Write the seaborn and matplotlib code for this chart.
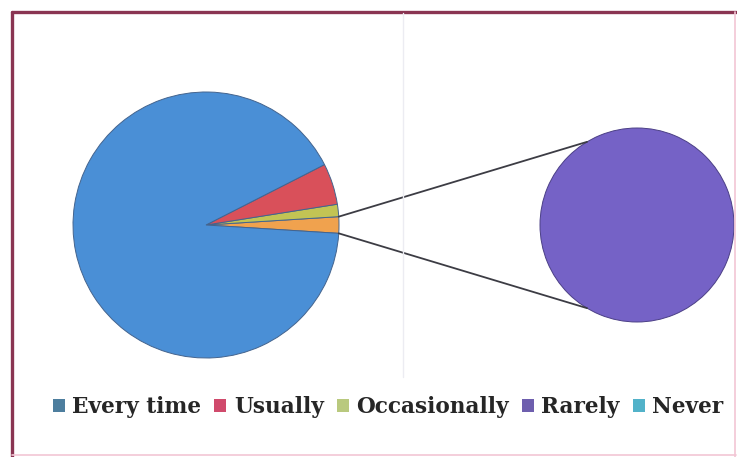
import matplotlib
matplotlib.use("Agg")
import matplotlib.pyplot as plt
from matplotlib.patches import Patch
import numpy as np
import seaborn as sns

# ---- data ----
categories = ["Every time", "Usually", "Occasionally", "Rarely", "Never"]
values = [91.5, 5.0, 1.5, 2.0, 0.0]
main_cats = ["Every time", "Usually", "Occasionally"]   # shown in first pie
detail_cats = ["Rarely", "Never"]                        # split into second pie

# ---- style ----
sns.set_theme(style="white")
plt.rcParams["font.family"] = ["DejaVu Serif", "Liberation Serif"]

slice_colors = {"Every time": "#4a8fd6", "Usually": "#d9505a", "Occasionally": "#c2c454",
                "Rarely": "#7562c6", "Never": "#4fb3c9", "Other": "#f0a24e"}
legend_colors = {"Every time": "#4d7e9e", "Usually": "#d04a6c", "Occasionally": "#b9c97e",
                 "Rarely": "#6e5fae", "Never": "#52b2c9"}

W, H = 737, 457
fig = plt.figure(figsize=(W / 100, H / 100), dpi=100)
fig.patch.set_facecolor("white")
ax = fig.add_axes([0, 0, 1, 1])

val = dict(zip(categories, values))
other = sum(val[c] for c in detail_cats)
main_vals = [other] + [val[c] for c in reversed(main_cats)]
main_cols = [slice_colors["Other"]] + [slice_colors[c] for c in reversed(main_cats)]
start = -other / sum(main_vals) * 360 / 2

c1, r1 = (206, H - 225), 133
c2, r2 = (637, H - 225), 97

wedges1, _ = ax.pie(main_vals, colors=main_cols, startangle=start, counterclock=True,
                    center=c1, radius=r1, frame=True,
                    wedgeprops=dict(edgecolor="#44648e", linewidth=0.7))

det_vals = [val[c] for c in detail_cats if val[c] > 0]
det_cols = [slice_colors[c] for c in detail_cats if val[c] > 0]
ax.pie(det_vals, colors=det_cols, startangle=90, center=c2, radius=r2, frame=True,
       wedgeprops=dict(edgecolor="#4b3f86", linewidth=0.7))
ax.set_xlim(0, W)
ax.set_ylim(0, H)
ax.set_aspect("equal")
ax.axis("off")

# connector lines from "Other" wedge edges to second pie
a1 = np.deg2rad(wedges1[0].theta2)
a0 = np.deg2rad(wedges1[0].theta1)
b1, b0 = np.deg2rad(121), np.deg2rad(-121)
for a, b in [(a1, b1), (a0, b0)]:
    ax.plot([c1[0] + r1 * np.cos(a), c2[0] + r2 * np.cos(b)],
            [c1[1] + r1 * np.sin(a), c2[1] + r2 * np.sin(b)],
            color="#3c3c44", lw=1.3, solid_capstyle="round")

# frame
ax.plot([12, 12], [0, H - 12], color="#8a3552", lw=2.4)
ax.plot([12, 736], [H - 12, H - 12], color="#8a3552", lw=2.4)
ax.plot([735, 735], [0, H - 12], color="#f2c6d4", lw=1.2)
ax.plot([12, 736], [2, 2], color="#f2c6d4", lw=1.2)
ax.plot([403, 403], [80, H - 13], color="#ececf2", lw=1.0)

handles = [Patch(facecolor=legend_colors[c], edgecolor="none", label=c) for c in categories]
ax.legend(handles=handles, loc="center", bbox_to_anchor=(388 / W, (H - 407) / H), ncol=5,
          frameon=False, handlelength=0.55, handleheight=0.55, handletextpad=0.35,
          columnspacing=0.6, borderpad=0, borderaxespad=0,
          prop=dict(family="DejaVu Serif", weight="bold", size=15.6))

fig.savefig("out.png", dpi=100, facecolor="white")
